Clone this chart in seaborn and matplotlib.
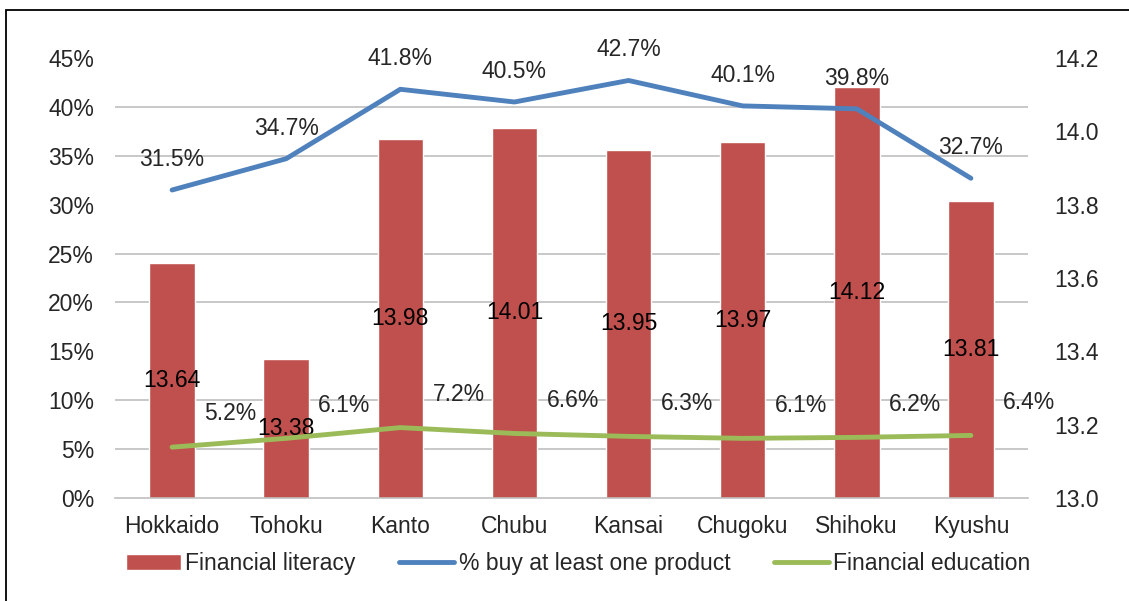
import numpy as np
import pandas as pd
import seaborn as sns
from matplotlib import pyplot as plt
from matplotlib.patches import Rectangle

# data
regions = ["Hokkaido", "Tohoku", "Kanto", "Chubu", "Kansai", "Chugoku", "Shihoku", "Kyushu"]
literacy = [13.64, 13.38, 13.98, 14.01, 13.95, 13.97, 14.12, 13.81]
buy_pct = [31.5, 34.7, 41.8, 40.5, 42.7, 40.1, 39.8, 32.7]
edu_pct = [5.2, 6.1, 7.2, 6.6, 6.3, 6.1, 6.2, 6.4]

df = pd.DataFrame({"region": regions, "literacy": literacy,
                   "buy": buy_pct, "edu": edu_pct})
df["pos"] = np.arange(len(df))

RED, BLUE, GREEN = "#C0504D", "#4F81BD", "#9BBB59"
GRID = "#BFBFBF"

sns.set_style("white")
plt.rcParams["font.family"] = ["Liberation Sans", "DejaVu Sans"]
FS = 16.5

fig = plt.figure(figsize=(11.29, 6.01), dpi=100)
ax_bar = fig.add_axes([0.1019, 0.1714, 0.8086, 0.7321])

# bars on the right-hand scale
sns.barplot(data=df, x="pos", y="literacy", ax=ax_bar, color=RED,
            saturation=1, width=0.4)
ax_bar.set_ylim(13.0, 14.2)
ax_bar.set_xlim(-0.5, len(df) - 0.5)
ax_bar.set_xticks(df["pos"])
ax_bar.set_xticklabels(regions)
ax_bar.set_xlabel("")
ax_bar.set_ylabel("")

# lines on the left-hand percent scale
ax_line = ax_bar.twinx()
sns.lineplot(data=df, x="pos", y="buy", ax=ax_line, color=BLUE, lw=3.5,
             label="% buy at least one product", legend=False)
sns.lineplot(data=df, x="pos", y="edu", ax=ax_line, color=GREEN, lw=3.5,
             label="Financial education", legend=False)
for ln in ax_line.lines:
    ln.set_solid_capstyle("round")
    ln.set_solid_joinstyle("round")
ax_line.set_ylim(0, 45)
ax_line.set_yticks(np.arange(0, 46, 5))
ax_line.set_yticklabels([f"{t}%" for t in range(0, 46, 5)])
ax_line.yaxis.tick_left()
ax_line.tick_params(axis="y", length=0, pad=15, labelsize=FS)
ax_line.set_ylabel("")
ax_line.set_xlabel("")
for s in ax_line.spines.values():
    s.set_visible(False)

# right-hand ticks for the bar axis (after twinx, which moves them left)
rticks = np.arange(13.0, 14.21, 0.2)
ax_bar.set_yticks(rticks)
ax_bar.set_yticklabels([f"{t:.1f}" for t in rticks])
ax_bar.yaxis.tick_right()
ax_bar.tick_params(axis="y", length=0, pad=19, labelsize=FS)
ax_bar.tick_params(axis="x", length=0, pad=12, labelsize=FS)
# gridlines follow the left (percent) scale, drawn behind the bars
lo, hi = ax_bar.get_ylim()
ax_bar.set_yticks(np.linspace(lo, hi, 10), minor=True)
ax_bar.grid(which="minor", axis="y", color=GRID, lw=1.2)
ax_bar.grid(which="major", visible=False)
ax_bar.tick_params(which="minor", length=0)
ax_bar.set_axisbelow(True)
for s in ["top", "left", "right"]:
    ax_bar.spines[s].set_visible(False)
ax_bar.spines["bottom"].set_color(GRID)
ax_bar.spines["bottom"].set_linewidth(1.2)

for i, v in enumerate(literacy):
    ax_bar.text(i, (lo + v) / 2, f"{v:.2f}", ha="center", va="center",
                fontsize=FS, color="black")

for i, v in enumerate(buy_pct):
    ax_line.annotate(f"{v}%", (i, v), xytext=(0, 22), textcoords="offset points",
                     ha="center", va="center", fontsize=FS)
for i, v in enumerate(edu_pct):
    ax_line.annotate(f"{v}%", (i, v), xytext=(42, 24), textcoords="offset points",
                     ha="center", va="center", fontsize=FS)

handles = [ax_bar.containers[0]] + ax_line.lines[:2]
labels = ["Financial literacy", "% buy at least one product", "Financial education"]
fig.legend(handles, labels, loc="center", bbox_to_anchor=(0.512, 0.063), ncol=3,
           frameon=False, fontsize=FS, handlelength=2.4, handletextpad=0.2,
           columnspacing=1.9)

# outer frame (cropped on the right and bottom in the original)
fig.add_artist(Rectangle((0.0053, -0.1), 1.2, 1.1 - 0.0166, transform=fig.transFigure,
                         fill=False, ec="black", lw=1.3))

fig.savefig("out.png", dpi=100)
